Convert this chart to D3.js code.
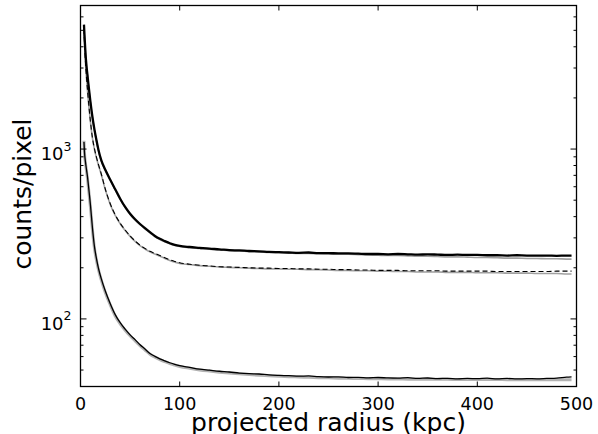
<!DOCTYPE html>
<meta charset="utf-8">
<body style="margin:0;background:#fff">
<script src="https://cdn.jsdelivr.net/npm/d3@7"></script>
<script>
var width = 598, height = 434;
var margin = {left: 80.5, right: 21.5, top: 5.5, bottom: 47.5};

// projected radius (kpc) of each sample
var radius = [3.5,4,5,6,7,8,10,12,14,16,18,21,25,30,35,40,45,50,55,60,65,70,75,80,85,90,95,100,
  110,120,130,140,150,160,170,180,190,200,210,220,230,240,250,260,270,280,290,300,
  310,320,330,340,350,360,370,380,390,400,410,420,430,440,450,460,470,480,490,495];

// upper profile (thick black) and its model (gray)
var topData = [5400,4700,3700,3100,2730,2400,1900,1550,1310,1135,995,858,755,660,580,510,456,416,386,362,342,324,308,296,287,279,273,269,
  265,262,259,257,254,253,251,250,248,247,246,245,246,244,244,243,243,242,241,241,
  240,241,240,239,240,239,238,239,238,238,237,237,236,237,236,236,236,235,236,236];
var topModel = [5350,4650,3650,3060,2700,2370,1880,1530,1290,1120,985,850,748,655,575,505,452,412,382,359,339,321,305,293,285,277,271,267,
  263,260,257,255,252,251,249,248,246,245,244,243,243,242,241,240,240,239,238,237,
  236,236,235,234,234,233,232,232,231,230,230,229,228,228,227,227,226,226,225,225];

// middle profile (dashed) and its model (gray)
var midData = [5100,4300,3250,2650,2250,1920,1460,1170,1010,900,815,712,582,476,410,366,334,308,288,272,260,250,243,236,229,223,218,214,
  210,207,205,203,202,201,200,199,199,198,198,197,197,196,196,195,195,194,194,193,
  193,193,192,192,192,192,191,191,191,191,191,190,190,190,190,190,190,191,191,191];
var midModel = [5050,4250,3220,2630,2230,1900,1450,1160,1000,890,806,705,577,472,407,363,331,306,286,270,258,248,241,234,227,221,216,212,
  209,206,204,202,201,200,199,198,197,197,196,196,195,195,194,193,193,192,192,191,
  191,190,190,189,189,189,188,188,188,187,187,187,186,186,186,185,185,185,184,184];

// lower profile (thin black) and its model (gray band)
var lowData = [1100,960,840,760,690,610,470,345,268,228,200,172,146,123,106,95,87,80.5,75.5,70.5,66.5,62.6,60.2,58.2,56.6,55.2,54,53,
  51.8,50.6,49.9,49.2,48.7,48.0,47.6,47.4,46.8,46.5,46.3,46.0,46.2,45.7,45.5,45.6,45.2,45.3,45.0,45.2,
  44.9,44.8,45.1,44.6,44.9,44.5,44.7,44.4,44.6,44.5,44.8,44.3,44.6,44.3,44.5,44.4,44.6,44.8,45.4,45.6];
var lowModel = [1120,950,825,745,672,592,455,336,262,223,196,169,143,121,104,93.5,85.8,79.5,74.3,69.6,65.6,62,59.6,57.6,56,54.6,53.5,52.5,
  51.2,50.1,49.3,48.6,48,47.5,47,46.6,46.3,46,45.7,45.5,45.3,45.1,45,44.8,44.7,44.6,44.5,44.4,
  44.3,44.3,44.2,44.2,44.1,44.1,44.1,44,44,44,44,44,43.9,43.9,43.9,43.9,43.9,43.9,43.9,43.9];

var xTicks = [0,100,200,300,400,500];
var yMajor = [100,1000];
var yExp = ["2","3"];

var svg = d3.select("body").append("svg")
    .attr("width", width)
    .attr("height", height)
    .style("font-family", "'DejaVu Sans', sans-serif");

var x = d3.scaleLinear().domain([0,500]).range([margin.left, width - margin.right]);
var y = d3.scaleLog().domain([40,7000]).range([height - margin.bottom, margin.top]);

function line(vals) {
  return d3.line()
    .curve(d3.curveMonotoneX)
    .x(function(d, i) { return x(radius[i]); })
    .y(function(d) { return y(d); })(vals);
}

var g = svg.append("g");

// gray models under the data
g.append("path").attr("d", line(lowModel)).attr("fill", "none").attr("stroke", "#b3b3b3").attr("stroke-width", 3);
g.append("path").attr("d", line(midModel)).attr("fill", "none").attr("stroke", "#a0a0a0").attr("stroke-width", 1.6);
g.append("path").attr("d", line(topModel)).attr("fill", "none").attr("stroke", "#a0a0a0").attr("stroke-width", 1.6);

g.append("path").attr("d", line(lowData)).attr("fill", "none").attr("stroke", "#000").attr("stroke-width", 1.3);
g.append("path").attr("d", line(midData)).attr("fill", "none").attr("stroke", "#000").attr("stroke-width", 1.1)
  .attr("stroke-dasharray", "5,3");
g.append("path").attr("d", line(topData)).attr("fill", "none").attr("stroke", "#000").attr("stroke-width", 2.3);

// frame
svg.append("rect")
  .attr("x", x(0)).attr("y", y(7000))
  .attr("width", x(500) - x(0)).attr("height", y(40) - y(7000))
  .attr("fill", "none").attr("stroke", "#000").attr("stroke-width", 1.3);

// x ticks, inward on bottom and top
xTicks.forEach(function(t) {
  svg.append("line").attr("x1", x(t)).attr("x2", x(t)).attr("y1", y(40)).attr("y2", y(40) - 5).attr("stroke", "#000");
  svg.append("line").attr("x1", x(t)).attr("x2", x(t)).attr("y1", y(7000)).attr("y2", y(7000) + 5).attr("stroke", "#000");
  svg.append("text").attr("x", x(t)).attr("y", y(40) + 23.5).attr("text-anchor", "middle")
    .style("font-size", "17.5px").text(t);
});

// y ticks, log scale
var minor = [];
[10,100,1000].forEach(function(dec) {
  for (var k = 2; k <= 9; k++) {
    var v = dec * k;
    if (v >= 40 && v <= 7000) minor.push(v);
  }
});
minor.forEach(function(v) {
  svg.append("line").attr("x1", x(0)).attr("x2", x(0) + 3).attr("y1", y(v)).attr("y2", y(v)).attr("stroke", "#000");
  svg.append("line").attr("x1", x(500)).attr("x2", x(500) - 3).attr("y1", y(v)).attr("y2", y(v)).attr("stroke", "#000");
});
yMajor.forEach(function(v, i) {
  svg.append("line").attr("x1", x(0)).attr("x2", x(0) + 6).attr("y1", y(v)).attr("y2", y(v)).attr("stroke", "#000");
  svg.append("line").attr("x1", x(500)).attr("x2", x(500) - 6).attr("y1", y(v)).attr("y2", y(v)).attr("stroke", "#000");
  var t = svg.append("text").attr("x", x(0) - 9).attr("y", y(v) + 11).attr("text-anchor", "end")
    .style("font-size", "18px");
  t.append("tspan").text("10");
  t.append("tspan").attr("dy", -9.5).style("font-size", "12.5px").text(yExp[i]);
});

svg.append("text")
  .attr("x", x(250)).attr("y", 431)
  .attr("text-anchor", "middle")
  .style("font-size", "25px")
  .text("projected radius (kpc)");

svg.append("text")
  .attr("transform", "translate(31,194) rotate(-90)")
  .attr("text-anchor", "middle")
  .style("font-size", "25px")
  .text("counts/pixel");
</script>
</body>
